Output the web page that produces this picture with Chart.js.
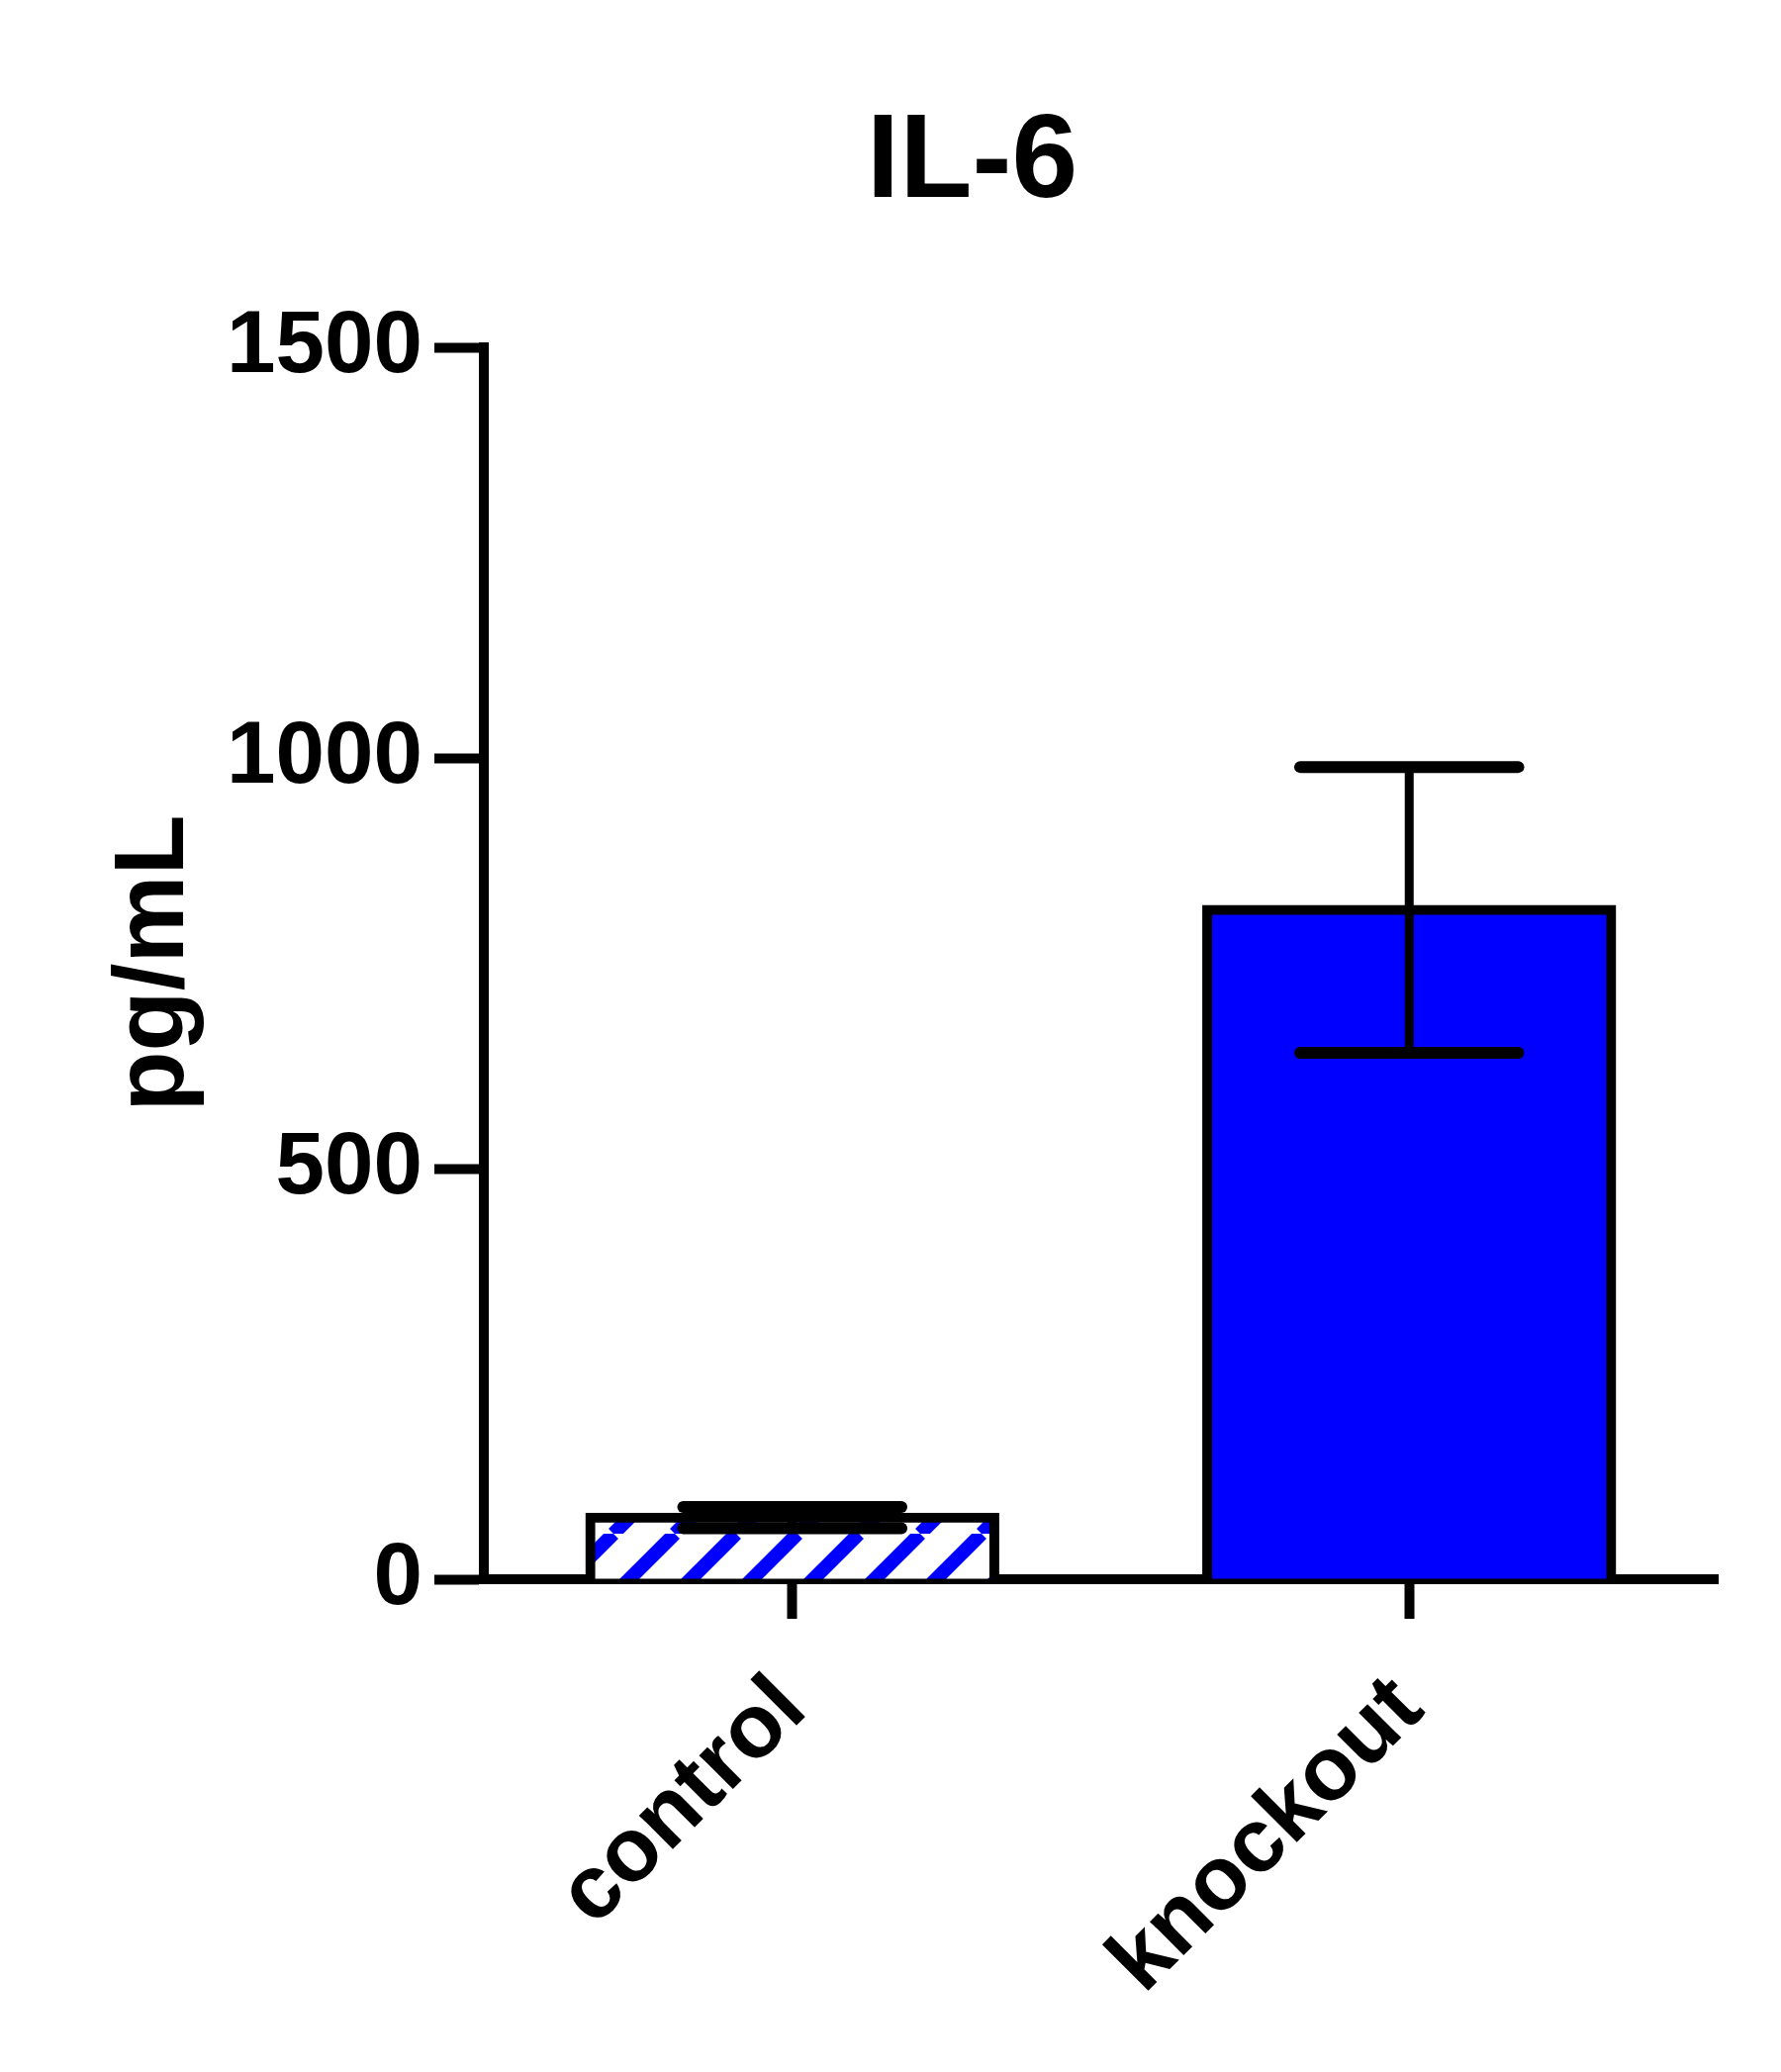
<!DOCTYPE html>
<html>
<head>
<meta charset="utf-8">
<title>IL-6</title>
<script src="https://cdn.jsdelivr.net/npm/chart.js@4.4.0/dist/chart.umd.min.js"></script>
<style>
  html, body { margin: 0; padding: 0; background: #ffffff; }
  #chartBox { width: 1800px; height: 2094px; }
</style>
</head>
<body>
<div id="chartBox"><canvas id="il6Chart" width="1800" height="2094"></canvas></div>
<script>
const chartTitle = 'IL-6';
const yTitle = 'pg/mL';
const groups = ['control', 'knockout'];
const means = [75, 815];
const sems = [13, 174];
const yTicks = [0, 500, 1000, 1500];

const blue = '#0000ff';
const fontFamily = "'Liberation Sans', Arial, sans-serif";

// blue "/" stripes on white for the control bar
const makeHatch = function () {
  const size = 62;
  const c = document.createElement('canvas');
  c.width = size;
  c.height = size;
  const g = c.getContext('2d');
  g.fillStyle = '#ffffff';
  g.fillRect(0, 0, size, size);
  g.strokeStyle = blue;
  g.lineWidth = 14;
  for (const off of [-size, 0, size]) {
    g.beginPath();
    g.moveTo(off, size);
    g.lineTo(off + size, 0);
    g.stroke();
  }
  return g.createPattern(c, 'repeat');
};

const errorBars = {
  id: 'errorBars',
  afterDatasetsDraw(chart) {
    const ctx = chart.ctx;
    const y = chart.scales.y;
    const meta = chart.getDatasetMeta(0);
    ctx.save();
    ctx.strokeStyle = '#000000';
    meta.data.forEach(function (bar, i) {
      const top = y.getPixelForValue(means[i] + sems[i]);
      const bottom = y.getPixelForValue(means[i] - sems[i]);
      const half = bar.width * 0.27;
      ctx.lineCap = 'butt';
      ctx.lineWidth = 9;
      ctx.beginPath();
      ctx.moveTo(bar.x, top);
      ctx.lineTo(bar.x, bottom);
      ctx.stroke();
      ctx.lineCap = 'round';
      ctx.lineWidth = 12;
      for (const yy of [top, bottom]) {
        ctx.beginPath();
        ctx.moveTo(bar.x - half, yy);
        ctx.lineTo(bar.x + half, yy);
        ctx.stroke();
      }
    });
    ctx.restore();
  }
};

// title centred over the value axis labels + plot, like the original
const centredTitle = {
  id: 'centredTitle',
  afterDraw(chart) {
    const ctx = chart.ctx;
    const area = chart.chartArea;
    const yOpts = chart.scales.y.options;
    ctx.save();
    ctx.font = `bold ${yOpts.ticks.font.size}px ${fontFamily}`;
    const labelW = Math.max(...yTicks.map(v => ctx.measureText(String(v)).width));
    const labelLeft = area.left - yOpts.grid.tickLength - yOpts.ticks.padding - labelW;
    const cx = (labelLeft + area.right) / 2;
    ctx.font = `bold 120px ${fontFamily}`;
    ctx.fillStyle = '#000000';
    ctx.textAlign = 'center';
    ctx.textBaseline = 'alphabetic';
    ctx.fillText(chartTitle, cx, area.top - 152);
    ctx.restore();
  }
};

document.addEventListener('DOMContentLoaded', function () {
  const ctx = document.getElementById('il6Chart').getContext('2d');
  Chart.defaults.font.family = fontFamily;
  Chart.defaults.font.weight = 'bold';
  Chart.defaults.color = '#000000';

  new Chart(ctx, {
    type: 'bar',
    data: {
      labels: groups,
      datasets: [{
        data: means,
        backgroundColor: [makeHatch(), blue],
        borderColor: '#000000',
        borderWidth: 10,
        borderSkipped: 'start',
        inflateAmount: 5,
        barPercentage: 0.655,
        categoryPercentage: 1
      }]
    },
    options: {
      responsive: false,
      animation: false,
      devicePixelRatio: 1,
      layout: { padding: { top: 351, right: 64, bottom: 0, left: 0 } },
      plugins: {
        legend: { display: false },
        tooltip: { enabled: false },
        title: { display: false }
      },
      scales: {
        x: {
          type: 'category',
          offset: true,
          z: 1,
          grid: {
            display: true,
            drawOnChartArea: false,
            drawTicks: true,
            offset: false,
            tickLength: 40,
            tickWidth: 10,
            tickColor: '#000000'
          },
          border: { display: true, color: '#000000', width: 10 },
          ticks: {
            color: '#000000',
            font: { size: 91, weight: 'bold' },
            minRotation: 45,
            maxRotation: 45,
            autoSkip: false,
            padding: 38
          },
          afterFit(scale) { scale.height = 498; }
        },
        y: {
          min: 0,
          max: 1500,
          z: 1,
          afterBuildTicks(scale) { scale.ticks = yTicks.map(v => ({ value: v })); },
          grid: {
            display: true,
            drawOnChartArea: false,
            drawTicks: true,
            tickLength: 50,
            tickWidth: 10,
            tickColor: '#000000'
          },
          border: { display: true, color: '#000000', width: 10 },
          ticks: {
            color: '#000000',
            font: { size: 89, weight: 'bold' },
            padding: 12,
            callback: v => String(v)
          },
          title: {
            display: true,
            text: yTitle,
            color: '#000000',
            font: { size: 100, weight: 'bold' },
            padding: { top: 97, bottom: 0 }
          },
          afterFit(scale) { scale.width = 489; }
        }
      }
    },
    plugins: [errorBars, centredTitle]
  });
});
</script>
</body>
</html>
